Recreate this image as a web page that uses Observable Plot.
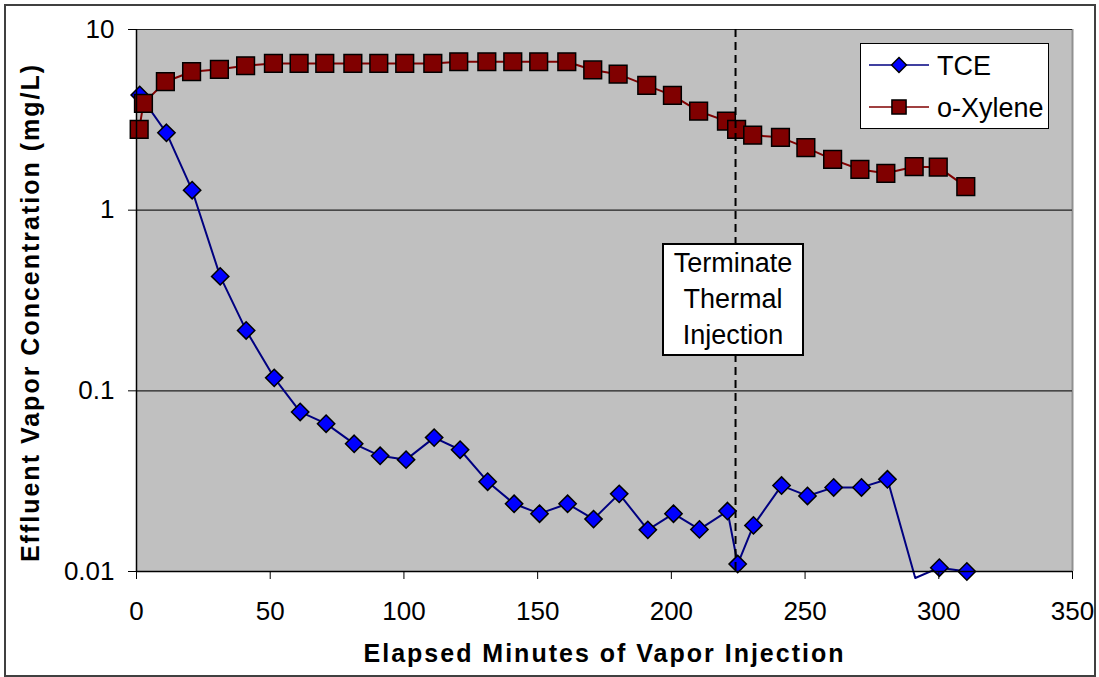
<!DOCTYPE html>
<html><head><meta charset="utf-8">
<script src="https://cdn.jsdelivr.net/npm/d3@7"></script>
<script src="https://cdn.jsdelivr.net/npm/@observablehq/plot@0.6"></script>
<style>
body{margin:0;background:#fff;font-family:"Liberation Sans",Arial,sans-serif;}
#wrap{position:relative;width:1099px;height:677px;overflow:hidden;}
#wrap svg{position:absolute;left:0;top:0;}
.border{position:absolute;left:4px;top:4px;width:1092px;height:673px;border:2px solid #404040;box-sizing:border-box;pointer-events:none;}
.note{position:absolute;background:#fff;border:2px solid #000;box-sizing:border-box;display:flex;flex-direction:column;justify-content:center;align-items:center;font-size:27px;line-height:36px;color:#000;text-align:center;}
.legend{position:absolute;background:#fff;border:1.5px solid #000;box-sizing:border-box;}
</style></head><body><div id="wrap"></div><script>
const xTicks = [0, 50, 100, 150, 200, 250, 300, 350];
const yTicks = [0.01, 0.1, 1, 10];
const seriesNames = ["TCE", "o-Xylene"];
const xTitle = "Elapsed Minutes of Vapor Injection";
const yTitle = "Effluent Vapor Concentration (mg/L)";
const noteLines = ["Terminate", "Thermal", "Injection"];
const terminateMinute = 224;
const noteY = 0.32;

const tceMinutes = [1.2, 11.2, 20.8, 31.3, 41, 51.5, 61.2, 70.9, 81.4, 91.1, 100.8, 111.3, 121, 131.3, 141.2, 150.7, 161.2, 170.9, 180.5, 191.2, 200.8, 210.5, 221, 224.8, 230.7, 241.2, 250.9, 260.7, 271.1, 280.8, 291.2, 300.2, 310.5];
const tceValues = [4.34, 2.68, 1.29, 0.43, 0.216, 0.118, 0.0764, 0.0658, 0.0509, 0.0437, 0.0416, 0.0551, 0.0472, 0.0314, 0.0237, 0.0209, 0.0237, 0.0195, 0.0269, 0.0170, 0.0209, 0.0171, 0.0216, 0.0110, 0.0180, 0.0299, 0.0262, 0.0292, 0.0292, 0.0324, 0.0092, 0.0105, 0.0100];
const xyleneMinutes = [1.0, 2.6, 10.8, 20.6, 31, 40.8, 51.2, 60.8, 70.4, 80.9, 90.6, 100.3, 110.8, 120.5, 131, 140.7, 150.4, 160.9, 170.6, 180.1, 190.8, 200.4, 210.2, 220.6, 224.4, 230.4, 240.8, 250.3, 260.3, 270.5, 280.2, 290.8, 299.8, 310.1];
const xyleneValues = [2.8, 3.9, 5.14, 5.84, 6.02, 6.30, 6.49, 6.49, 6.49, 6.49, 6.49, 6.49, 6.49, 6.63, 6.63, 6.63, 6.63, 6.63, 5.97, 5.66, 4.91, 4.32, 3.53, 3.11, 2.80, 2.60, 2.53, 2.22, 1.91, 1.68, 1.60, 1.74, 1.73, 1.35];

const tce = tceMinutes.map((m, i) => ({minute: m, value: tceValues[i]}));
const xylene = xyleneMinutes.map((m, i) => ({minute: m, value: xyleneValues[i]}));
const yMin = yTicks[0];

const plot = Plot.plot({
  width: 1099, height: 677,
  marginLeft: 136, marginRight: 27, marginTop: 29, marginBottom: 106,
  style: {fontFamily: "'Liberation Sans', Arial, sans-serif", background: "transparent", overflow: "visible", color: "#000"},
  x: {domain: [0, 350], ticks: xTicks},
  y: {type: "log", domain: [yTicks[0], yTicks[yTicks.length - 1]], ticks: yTicks},
  marks: [
    Plot.frame({fill: "#C0C0C0", stroke: null}),
    Plot.ruleX([350], {stroke: "#909090", strokeWidth: 2}),
    Plot.ruleY(yTicks.slice(1), {stroke: "#202020", strokeWidth: 1.2}),
    Plot.line(tce, {x: "minute", y: "value", stroke: "#000080", strokeWidth: 2}),
    Plot.dot(tce.filter(d => d.value >= yMin * 0.95), {x: "minute", y: "value", symbol: "diamond2", r: 7.8, fill: "#0000FF", stroke: "#000", strokeWidth: 1.5}),
    Plot.line(xylene, {x: "minute", y: "value", stroke: "#800000", strokeWidth: 2}),
    Plot.dot(xylene, {x: "minute", y: "value", symbol: "square", r: 10, fill: "#800000", stroke: "#000", strokeWidth: 1.5}),
    Plot.ruleX([terminateMinute], {stroke: "#000", strokeWidth: 2, strokeDasharray: "8,5"}),
    Plot.ruleY([yMin], {stroke: "#000", strokeWidth: 1.5}),
    Plot.ruleX([0], {stroke: "#000", strokeWidth: 1.5}),
    Plot.axisX({ticks: xTicks, tickSize: 8, tickPadding: 22, fontSize: 26, tickFormat: d => String(d), label: null}),
    Plot.axisY({ticks: yTicks, tickSize: 8, tickPadding: 14, fontSize: 26, tickFormat: d => String(d), label: null}),
    Plot.text([xTitle], {text: d => d, frameAnchor: "bottom", dy: 90, fontSize: 25, fontWeight: "bold"}),
    Plot.text([yTitle], {text: d => d, frameAnchor: "left", textAnchor: "middle", dx: -106, dy: 12, rotate: -90, fontSize: 25, fontWeight: "bold"})
  ]
});

const wrap = document.getElementById("wrap");
wrap.appendChild(plot);
d3.select(plot).selectAll("text").filter(function() {
  return this.textContent === xTitle || this.textContent === yTitle;
}).style("letter-spacing", "2px");

const sx = plot.scale("x"), sy = plot.scale("y");

// annotation box
const note = document.createElement("div");
note.className = "note";
const cx = sx.apply(terminateMinute), cy = sy.apply(noteY);
note.style.left = (cx - 73) + "px";
note.style.top = (cy - 56.5) + "px";
note.style.width = "142px";
note.style.height = "113px";
noteLines.forEach(t => { const s = document.createElement("div"); s.textContent = t; note.appendChild(s); });
wrap.appendChild(note);

// legend
const leg = document.createElement("div");
leg.className = "legend";
leg.style.left = "860px"; leg.style.top = "43px"; leg.style.width = "189px"; leg.style.height = "86px";
const lsvg = d3.create("svg").attr("width", 186).attr("height", 83).style("position", "absolute").style("left", "0").style("top", "0");
const styles = [
  {stroke: "#000080", fill: "#0000FF", symbol: d3.symbolDiamond2, size: 140},
  {stroke: "#800000", fill: "#800000", symbol: d3.symbolSquare, size: 200}
];
seriesNames.forEach((name, i) => {
  const y = 21 + i * 42;
  lsvg.append("line").attr("x1", 8).attr("x2", 68).attr("y1", y).attr("y2", y).attr("stroke", styles[i].stroke).attr("stroke-width", 1.5);
  lsvg.append("path").attr("d", d3.symbol(styles[i].symbol, styles[i].size)()).attr("transform", `translate(38,${y})`)
    .attr("fill", styles[i].fill).attr("stroke", "#000").attr("stroke-width", 1.5);
  lsvg.append("text").attr("x", 76).attr("y", y).attr("dy", "0.36em").attr("font-size", 27)
    .attr("font-family", "'Liberation Sans', Arial, sans-serif").attr("fill", "#000").text(name);
});
leg.appendChild(lsvg.node());
wrap.appendChild(leg);

const border = document.createElement("div");
border.className = "border";
wrap.appendChild(border);
</script></body></html>
